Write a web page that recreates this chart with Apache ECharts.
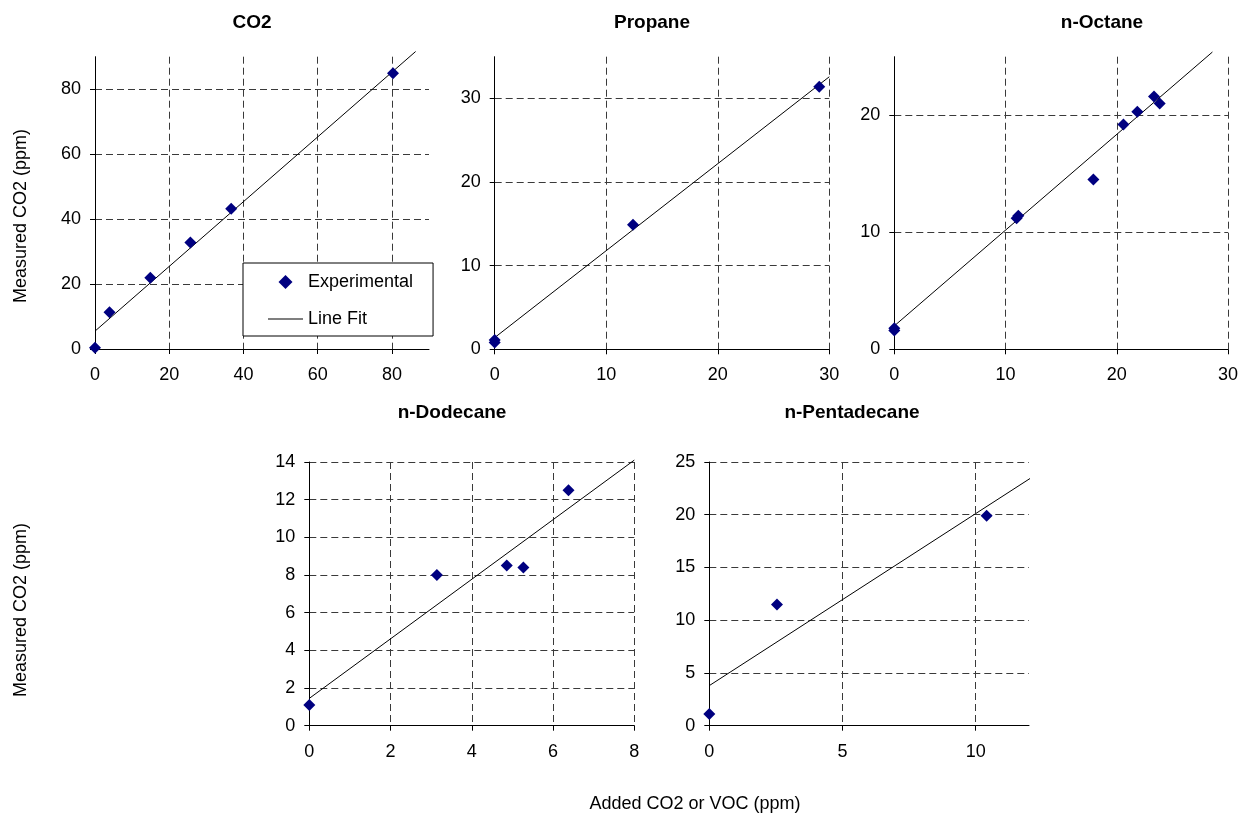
<!DOCTYPE html>
<html>
<head>
<meta charset="utf-8">
<script src="https://cdn.jsdelivr.net/npm/echarts@6/dist/echarts.min.js"></script>
<style>html,body{margin:0;padding:0;background:#fff}#c{width:1241px;height:814px}</style>
</head>
<body>
<div id="c"></div>
<script>
// ---- data ----
const panelTitles = ['CO2', 'Propane', 'n-Octane', 'n-Dodecane', 'n-Pentadecane'];
const yAxisTitle = 'Measured CO2 (ppm)';
const xAxisTitle = 'Added CO2 or VOC (ppm)';
const legendNames = ['Experimental', 'Line Fit'];

const co2Points = [[0, 0.4], [3.9, 11.3], [14.9, 21.9], [25.7, 32.8], [36.7, 43.2], [80.3, 84.9]];
const co2Fit = [[0, 5.5], [86.4, 91.6]];

const propanePoints = [[0, 0.8], [0, 1.1], [12.4, 14.9], [29.1, 31.4]];
const propaneFit = [[0, 1.4], [30, 32.6]];

const octanePoints = [[0, 1.6], [0, 1.8], [11.0, 11.2], [11.15, 11.4], [17.9, 14.5], [20.6, 19.2], [21.85, 20.3], [23.35, 21.6], [23.86, 21.0]];
const octaneFit = [[0, 2.0], [28.6, 25.4]];

const dodecanePoints = [[0, 1.1], [3.14, 8.0], [4.86, 8.5], [5.27, 8.4], [6.38, 12.5]];
const dodecaneFit = [[0, 1.45], [8, 14.1]];

const pentadecanePoints = [[0, 1.1], [2.54, 11.5], [10.41, 19.9]];
const pentadecaneFit = [[0, 3.8], [12.2, 23.7]];

// axis ranges and tick labels
const xMax = [90, 30, 30, 8, 12];
const yMax = [90, 35, 25, 14, 25];
const xTicks = [[0, 20, 40, 60, 80], [0, 10, 20, 30], [0, 10, 20, 30], [0, 2, 4, 6, 8], [0, 5, 10]];
const yTicks = [[0, 20, 40, 60, 80], [0, 10, 20, 30], [0, 10, 20], [0, 2, 4, 6, 8, 10, 12, 14], [0, 5, 10, 15, 20, 25]];
const xStep = [20, 10, 10, 2, 5];
const yStep = [20, 10, 10, 2, 5];

const allPoints = [co2Points, propanePoints, octanePoints, dodecanePoints, pentadecanePoints];
const allFits = [co2Fit, propaneFit, octaneFit, dodecaneFit, pentadecaneFit];

// ---- layout ----
const grids = [
  {left: 95, top: 56.7, width: 334, height: 292.3},
  {left: 494.7, top: 56.7, width: 334.6, height: 292.6},
  {left: 894.3, top: 56.7, width: 335, height: 292.6},
  {left: 309.3, top: 462, width: 325, height: 263.7},
  {left: 709.3, top: 462, width: 319.7, height: 263.7}
];
const titlePos = [[252, 13], [652, 13], [1102, 13], [452, 403], [852, 403]];

const FONT = '"Liberation Sans", Arial, sans-serif';
const gridLine = {show: true, showMinLine: false, showMaxLine: true, lineStyle: {color: '#3a3a3a', width: 1, type: [7, 4]}};

const xAxes = [], yAxes = [], series = [], titles = [];
for (let i = 0; i < 5; i++) {
  xAxes.push({
    type: 'value', gridIndex: i, min: 0, max: xMax[i], interval: xStep[i],
    axisLine: {show: true, onZero: false, lineStyle: {color: '#000', width: 1}},
    axisTick: {show: true, length: 5, customValues: xTicks[i], lineStyle: {color: '#000'}},
    axisLabel: {customValues: xTicks[i], color: '#000', fontSize: 18, fontFamily: FONT, margin: 17},
    splitLine: gridLine
  });
  yAxes.push({
    type: 'value', gridIndex: i, min: 0, max: yMax[i], interval: yStep[i],
    axisLine: {show: true, onZero: false, lineStyle: {color: '#000', width: 1}},
    axisTick: {show: true, length: 5, customValues: yTicks[i], lineStyle: {color: '#000'}},
    axisLabel: {customValues: yTicks[i], color: '#000', fontSize: 18, fontFamily: FONT, margin: 14},
    splitLine: gridLine
  });
  series.push({
    name: i === 0 ? legendNames[0] : panelTitles[i] + ' ' + legendNames[0],
    type: 'scatter', xAxisIndex: i, yAxisIndex: i,
    symbol: 'diamond', symbolSize: 12,
    itemStyle: {color: '#000080', opacity: 1},
    data: allPoints[i], z: 4
  });
  series.push({
    name: i === 0 ? legendNames[1] : panelTitles[i] + ' ' + legendNames[1],
    type: 'line', xAxisIndex: i, yAxisIndex: i,
    symbol: 'none', showSymbol: false, clip: false,
    lineStyle: {color: '#000', width: 1},
    itemStyle: {color: '#000'},
    data: allFits[i], z: 3
  });
  titles.push({
    text: panelTitles[i], left: titlePos[i][0], top: titlePos[i][1], textAlign: 'center', padding: 0,
    textStyle: {fontSize: 19, fontWeight: 'bold', color: '#000', fontFamily: FONT}
  });
}

const option = {
  animation: false,
  backgroundColor: '#fff',
  title: titles,
  grid: grids.map(g => Object.assign({containLabel: false, show: false}, g)),
  xAxis: xAxes,
  yAxis: yAxes,
  series: series,
  legend: {
    data: [
      {name: legendNames[0], icon: 'path://M5,0L10,5L5,10L0,5Z'},
      {name: legendNames[1], icon: 'path://M0,0h35v1h-35z'}
    ],
    orient: 'vertical',
    left: 243, top: 263,
    padding: [10, 20, 8, 25],
    itemGap: 19,
    itemWidth: 35, itemHeight: 14,
    itemTextGap: 6,
    symbolKeepAspect: true,
    backgroundColor: '#fff',
    borderColor: '#000', borderWidth: 1,
    selectedMode: false,
    textStyle: {fontSize: 18, color: '#000', fontFamily: FONT},
    z: 10
  },
  graphic: [
    {type: 'text', x: 21, y: 216, rotation: Math.PI / 2,
     style: {text: yAxisTitle, fontSize: 18, fontFamily: FONT, fill: '#000', textAlign: 'center', textVerticalAlign: 'middle'}},
    {type: 'text', x: 21, y: 610, rotation: Math.PI / 2,
     style: {text: yAxisTitle, fontSize: 18, fontFamily: FONT, fill: '#000', textAlign: 'center', textVerticalAlign: 'middle'}},
    {type: 'text', x: 695, y: 804,
     style: {text: xAxisTitle, fontSize: 18, fontFamily: FONT, fill: '#000', textAlign: 'center', textVerticalAlign: 'middle'}}
  ]
};

const chart = echarts.init(document.getElementById('c'), null, {renderer: 'canvas'});
chart.setOption(option);
</script>
</body>
</html>
